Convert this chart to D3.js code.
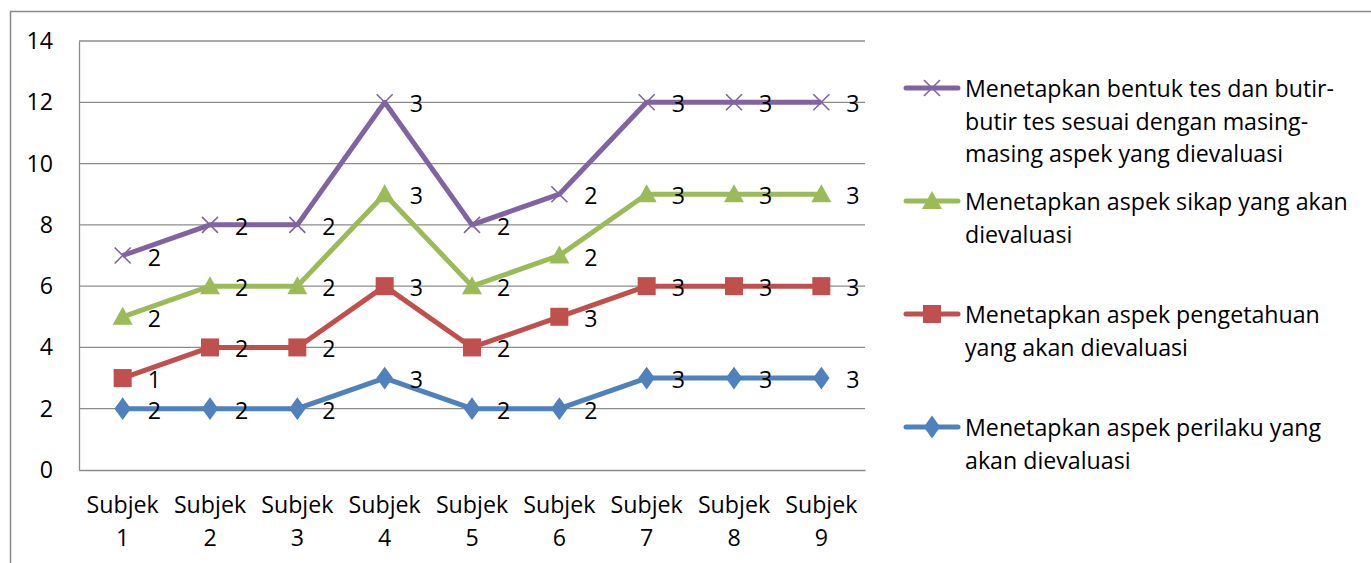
<!DOCTYPE html>
<html>
<head>
<meta charset="utf-8">
<script src="https://cdn.jsdelivr.net/npm/d3@7"></script>
<style>
  html, body { margin: 0; padding: 0; background: #fff; }
  svg { display: block; }
  svg text { font-family: "Open Sans", "Noto Sans", sans-serif; }
</style>
</head>
<body>
<svg id="chart" width="1371" height="563"></svg>
<script>
// Stacked line chart: per-subject scores for four evaluation aspects
const categories = ["Subjek 1", "Subjek 2", "Subjek 3", "Subjek 4", "Subjek 5",
                    "Subjek 6", "Subjek 7", "Subjek 8", "Subjek 9"];

const seriesNames = [
  "Menetapkan aspek perilaku yang akan dievaluasi",
  "Menetapkan aspek pengetahuan yang akan dievaluasi",
  "Menetapkan aspek sikap yang akan dievaluasi",
  "Menetapkan bentuk tes dan butir-butir tes sesuai dengan masing-masing aspek yang dievaluasi"
];

const perilaku    = [2, 2, 2, 3, 2, 2, 3, 3, 3];
const pengetahuan = [1, 2, 2, 3, 2, 3, 3, 3, 3];
const sikap       = [2, 2, 2, 3, 2, 2, 3, 3, 3];
const bentukTes   = [2, 2, 2, 3, 2, 2, 3, 3, 3];

const yTicks = [0, 2, 4, 6, 8, 10, 12, 14];

// legend text split into display lines
const legendLines = [
  ["Menetapkan aspek perilaku yang", "akan dievaluasi"],
  ["Menetapkan aspek pengetahuan", "yang akan dievaluasi"],
  ["Menetapkan aspek sikap yang akan", "dievaluasi"],
  ["Menetapkan bentuk tes dan butir-", "butir tes sesuai dengan masing-", "masing aspek yang dievaluasi"]
];

const colors = ["#4F81BD", "#C0504D", "#9BBB59", "#8064A2"];
const markers = ["diamond", "square", "triangle", "x"];
const FS = 23.2;

const svg = d3.select("#chart");
const W = 1371, H = 563;

// chart frame
svg.append("path")
  .attr("d", `M10.5,${H} V11.5 H${W}`)
  .attr("fill", "none").attr("stroke", "#888").attr("stroke-width", 1.5);

const plot = { left: 79, right: 865, top: 41, bottom: 470 };

const x = d3.scaleBand().domain(categories).range([plot.left, plot.right]);
const xc = c => x(c) + x.bandwidth() / 2;
const y = d3.scaleLinear().domain([0, 14]).range([plot.bottom, plot.top]);

// gridlines
svg.append("g").selectAll("line").data(yTicks.filter(t => t > 0)).join("line")
  .attr("x1", plot.left).attr("x2", plot.right)
  .attr("y1", d => y(d)).attr("y2", d => y(d))
  .attr("stroke", "#8c8c8c").attr("stroke-width", 1.3);

// y axis
const yAxis = svg.append("g").attr("transform", `translate(${plot.left},0)`)
  .call(d3.axisLeft(y).tickValues(yTicks).tickSize(0).tickPadding(26));
yAxis.attr("font-family", null).attr("font-size", null);
yAxis.select(".domain").attr("stroke", "#8c8c8c").attr("stroke-width", 1.3);
yAxis.selectAll("text").attr("font-size", FS).attr("fill", "#000");

// x axis
const xAxis = svg.append("g").attr("transform", `translate(0,${plot.bottom})`)
  .call(d3.axisBottom(x).tickSize(0).tickFormat(""));
xAxis.attr("font-family", null).attr("font-size", null);
xAxis.select(".domain").attr("stroke", "#8c8c8c").attr("stroke-width", 1.3);
xAxis.selectAll(".tick").each(function(d) {
  const parts = d.split(" ");
  const t = d3.select(this).append("text")
    .attr("fill", "#000").attr("font-size", FS).attr("text-anchor", "middle");
  t.append("tspan").attr("x", 0).attr("y", 43).text(parts[0]);
  t.append("tspan").attr("x", 0).attr("y", 76).text(parts[1]);
});

// stacking
const raw = [perilaku, pengetahuan, sikap, bentukTes];
const stackData = categories.map((c, i) => {
  const o = { cat: c };
  raw.forEach((arr, s) => o["s" + s] = arr[i]);
  return o;
});
const stacked = d3.stack().keys(raw.map((_, s) => "s" + s))(stackData);

const line = d3.line().x(d => xc(d.data.cat)).y(d => y(d[1]));

function drawMarker(g, type, color, cx, cy) {
  if (type === "diamond") {
    g.append("path").attr("d", d3.symbol(d3.symbolDiamond, 150)())
      .attr("transform", `translate(${cx},${cy}) scale(1.25,1)`).attr("fill", color);
  } else if (type === "square") {
    g.append("rect").attr("x", cx - 9).attr("y", cy - 9).attr("width", 18).attr("height", 18)
      .attr("fill", color);
  } else if (type === "triangle") {
    g.append("path").attr("d", `M${cx},${cy - 10} L${cx + 10},${cy + 8} L${cx - 10},${cy + 8} Z`)
      .attr("fill", color);
  } else {
    g.append("path").attr("d", `M${cx - 8},${cy - 8} L${cx + 8},${cy + 8} M${cx - 8},${cy + 8} L${cx + 8},${cy - 8}`)
      .attr("stroke", color).attr("stroke-width", 1.6).attr("fill", "none");
  }
}

const seriesG = svg.append("g");
stacked.forEach((s, si) => {
  const g = seriesG.append("g");
  g.append("path").datum(s).attr("d", line)
    .attr("fill", "none").attr("stroke", colors[si]).attr("stroke-width", 5)
    .attr("stroke-linejoin", "round");
  s.forEach(d => drawMarker(g, markers[si], colors[si], xc(d.data.cat), y(d[1])));
});

// data labels showing each series' own value
const labelG = svg.append("g");
stacked.forEach((s, si) => {
  s.forEach((d, i) => {
    labelG.append("text")
      .attr("x", xc(d.data.cat) + 25).attr("y", y(d[1]) + 10)
      .attr("font-size", FS).attr("fill", "#000")
      .text(raw[si][i]);
  });
});

// legend (top entry = last series)
const legend = svg.append("g");
const legendY = [427, 314, 201, 88];
legendLines.forEach((lines, si) => {
  const ly = legendY[si];
  legend.append("line").attr("x1", 906).attr("x2", 958).attr("y1", ly).attr("y2", ly)
    .attr("stroke", colors[si]).attr("stroke-width", 5).attr("stroke-linecap", "round");
  drawMarker(legend, markers[si], colors[si], 932, ly);
  lines.forEach((t, li) => {
    legend.append("text").attr("x", 965).attr("y", ly + 9 + li * 32.5)
      .attr("font-size", FS).attr("fill", "#000").text(t);
  });
});
</script>
</body>
</html>
